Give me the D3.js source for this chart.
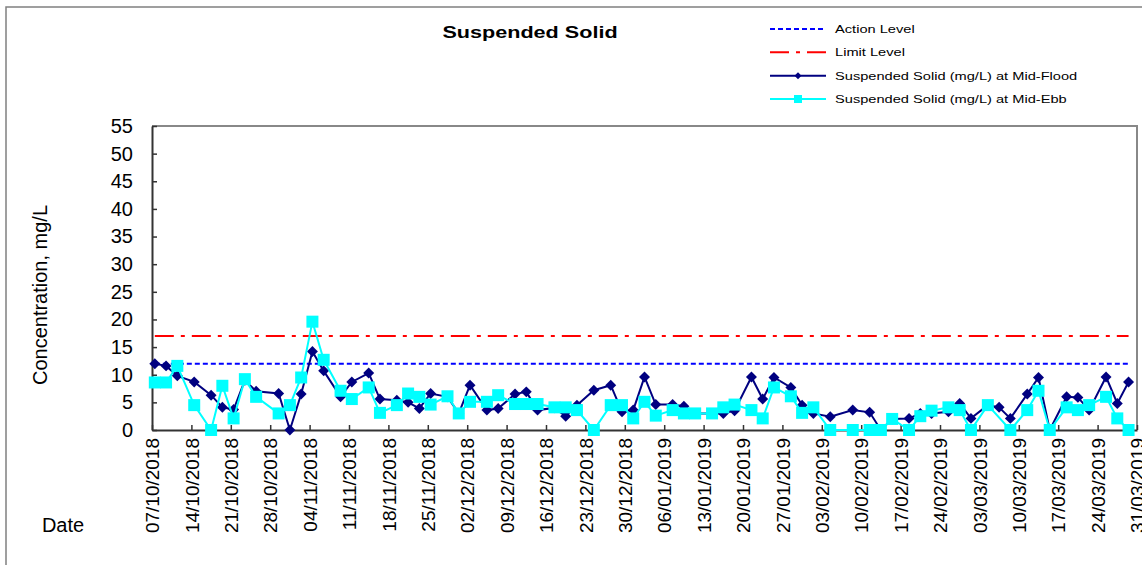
<!DOCTYPE html>
<html lang="en">
<head>
<meta charset="UTF-8">
<title>Suspended Solid</title>
<script src="https://d3js.org/d3.v7.min.js"></script>
<style>
  body { margin: 0; background: #fff; }
  svg text { font-family: Arial, 'Liberation Sans', sans-serif; fill: #000; }
  .axis .domain { stroke: #333; stroke-width: 2; }
  .axis .tick line { stroke: #333; stroke-width: 1.5; }
</style>
</head>
<body>
<svg width="1142" height="565"></svg>
<script>
// sampling dates (dd/mm/yyyy)
const dates = [
  "07/10/2018","09/10/2018","11/10/2018","14/10/2018","17/10/2018","19/10/2018","21/10/2018","23/10/2018","25/10/2018","29/10/2018","31/10/2018",
  "02/11/2018","04/11/2018","06/11/2018","09/11/2018","11/11/2018","14/11/2018","16/11/2018","19/11/2018","21/11/2018","23/11/2018","25/11/2018","28/11/2018","30/11/2018",
  "02/12/2018","05/12/2018","07/12/2018","10/12/2018","12/12/2018","14/12/2018","17/12/2018","19/12/2018","21/12/2018","24/12/2018","27/12/2018","29/12/2018","31/12/2018",
  "02/01/2019","04/01/2019","07/01/2019","09/01/2019","11/01/2019","14/01/2019","16/01/2019","18/01/2019","21/01/2019","23/01/2019","25/01/2019","28/01/2019","30/01/2019",
  "01/02/2019","04/02/2019","08/02/2019","11/02/2019","13/02/2019","15/02/2019","18/02/2019","20/02/2019","22/02/2019","25/02/2019","27/02/2019",
  "01/03/2019","04/03/2019","06/03/2019","08/03/2019","11/03/2019","13/03/2019","15/03/2019","18/03/2019","20/03/2019","22/03/2019","25/03/2019","27/03/2019","29/03/2019"
];

const midFlood = [
  12.0, 11.6, 9.8, 8.7, 6.3, 4.1, 3.7, 9.0, 7.0, 6.6, 0,
  6.5, 14.2, 10.7, 6.0, 8.7, 10.3, 5.6, 5.4, 5.0, 3.9, 6.6, 6.0, 3.0,
  8.1, 3.6, 3.9, 6.5, 6.9, 3.6, 4.0, 2.5, 4.5, 7.2, 8.1, 3.3, 3.6,
  9.6, 4.6, 4.6, 4.3, 3.0, 3.0, 3.0, 3.5, 9.6, 5.6, 9.5, 7.7, 4.5,
  3.0, 2.4, 3.6, 3.2, 0, 2.0, 2.1, 3.0, 3.0, 3.3, 4.8,
  2.1, 4.5, 4.1, 2.1, 6.5, 9.5, 0, 6.0, 5.9, 3.6, 9.6, 4.8, 8.7
];

const midEbb = [
  8.6, 8.6, 11.6, 4.5, 0, 8.0, 2.1, 9.2, 6.0, 3.0, 4.5,
  9.5, 19.6, 12.7, 7.1, 5.6, 7.7, 3.1, 4.5, 6.6, 6.0, 4.6, 6.1, 3.0,
  5.1, 5.1, 6.3, 4.7, 4.7, 4.7, 4.1, 4.1, 3.6, 0, 4.5, 4.5, 2.1,
  5.1, 2.6, 3.6, 3.0, 3.0, 3.0, 4.1, 4.6, 3.6, 2.1, 7.7, 6.1, 3.1,
  4.1, 0, 0, 0, 0, 2.0, 0, 2.5, 3.5, 4.1, 3.6,
  0, 4.5, null, 0, 3.6, 7.1, 0, 4.1, 3.6, 4.5, 6.0, 2.1, 0
];

const actionLevel = 12;
const limitLevel = 17;
const yTicks = [0, 5, 10, 15, 20, 25, 30, 35, 40, 45, 50, 55];
const xStart = "07/10/2018", xEnd = "31/03/2019";
const legendNames = ["Action Level", "Limit Level",
  "Suspended Solid (mg/L) at Mid-Flood", "Suspended Solid (mg/L) at Mid-Ebb"];

const parse = d3.timeParse("%d/%m/%Y");
const fmt = d3.timeFormat("%d/%m/%Y");
// points sit in the middle of their day, like a date axis in a spreadsheet
const mid = s => d3.timeHour.offset(parse(s), 12);

const svg = d3.select("svg");
const plot = {left: 152, right: 1137, top: 126, bottom: 430};

const x = d3.scaleTime()
  .domain([parse(xStart), parse(xEnd)])
  .range([plot.left, plot.right]);
const y = d3.scaleLinear()
  .domain([0, 55])
  .range([plot.bottom, plot.top]);

// outer chart border
svg.append("rect")
  .attr("x", 6).attr("y", 7)
  .attr("width", 1160).attr("height", 600)
  .attr("fill", "none").attr("stroke", "#808080").attr("stroke-width", 1.5);

// plot frame (top + right)
svg.append("path")
  .attr("d", `M${plot.left},${plot.top}H${plot.right}V${plot.bottom}`)
  .attr("fill", "none").attr("stroke", "#888").attr("stroke-width", 2);

// axes
const weekTicks = d3.timeDay.range(parse(xStart), d3.timeDay.offset(parse(xEnd), 1), 7);

const gx = svg.append("g")
  .attr("class", "axis")
  .attr("transform", `translate(0,${plot.bottom})`)
  .call(d3.axisBottom(x).tickValues(weekTicks).tickFormat(fmt)
    .tickSizeInner(-5).tickSizeOuter(0));
gx.selectAll(".tick text")
  .attr("transform", "rotate(-90)")
  .attr("x", -8).attr("y", 0).attr("dy", "0.35em")
  .attr("text-anchor", "end")
  .style("font-size", "19px");

const gy = svg.append("g")
  .attr("class", "axis")
  .attr("transform", `translate(${plot.left},0)`)
  .call(d3.axisLeft(y).tickValues(yTicks)
    .tickSizeInner(-5).tickSizeOuter(0).tickPadding(19));
gy.selectAll(".tick text").style("font-size", "20px");

// axis titles
svg.append("text")
  .attr("transform", "translate(47,295) rotate(-90)")
  .attr("text-anchor", "middle")
  .style("font-size", "20px")
  .text("Concentration, mg/L");

svg.append("text")
  .attr("x", 63).attr("y", 532)
  .attr("text-anchor", "middle")
  .style("font-size", "20px")
  .text("Date");

// chart title
svg.append("text")
  .attr("transform", "translate(530,38) scale(1.35,1)")
  .attr("text-anchor", "middle")
  .style("font-size", "16px").style("font-weight", "bold")
  .text("Suspended Solid");

// series
const flood = dates.map((d, i) => ({date: mid(d), v: midFlood[i]}));
const ebb = dates.map((d, i) => ({date: mid(d), v: midEbb[i]})).filter(d => d.v != null);

const line = d3.line().x(d => x(d.date)).y(d => y(d.v));
const levelLine = lvl => d3.line().x(d => x(mid(d))).y(() => y(lvl))(dates);

svg.append("path")
  .attr("d", levelLine(actionLevel))
  .attr("fill", "none").attr("stroke", "#0000ff").attr("stroke-width", 2)
  .attr("stroke-dasharray", "5,3");

svg.append("path")
  .attr("d", levelLine(limitLevel))
  .attr("fill", "none").attr("stroke", "#ff0000").attr("stroke-width", 2)
  .attr("stroke-dasharray", "19,7,4,7");

svg.append("path")
  .datum(flood)
  .attr("d", line)
  .attr("fill", "none").attr("stroke", "#000080").attr("stroke-width", 2);

const diamond = d3.symbol().type(d3.symbolDiamond2).size(60);
svg.append("g").selectAll("path")
  .data(flood)
  .join("path")
  .attr("transform", d => `translate(${x(d.date)},${y(d.v)}) rotate(45)`)
  .attr("d", d3.symbol().type(d3.symbolSquare).size(60))
  .attr("fill", "#000080");

svg.append("path")
  .datum(ebb)
  .attr("d", line)
  .attr("fill", "none").attr("stroke", "#00ffff").attr("stroke-width", 2);

svg.append("g").selectAll("rect")
  .data(ebb)
  .join("rect")
  .attr("x", d => x(d.date) - 6)
  .attr("y", d => y(d.v) - 6)
  .attr("width", 12).attr("height", 12)
  .attr("fill", "#00ffff");

// legend
const legendY = d3.scalePoint().domain(legendNames).range([29, 99]);
const lg = svg.append("g");
const lx0 = 770, lx1 = 826;
const styles = [
  {stroke: "#0000ff", dash: "5,3"},
  {stroke: "#ff0000", dash: "19,7,4,7"},
  {stroke: "#000080", dash: null},
  {stroke: "#00ffff", dash: null}
];
legendNames.forEach((name, i) => {
  const yy = legendY(name);
  lg.append("line")
    .attr("x1", lx0).attr("x2", lx1).attr("y1", yy).attr("y2", yy)
    .attr("stroke", styles[i].stroke).attr("stroke-width", 2)
    .attr("stroke-dasharray", styles[i].dash);
  if (i === 2) {
    lg.append("path")
      .attr("transform", `translate(${(lx0 + lx1) / 2},${yy}) rotate(45)`)
      .attr("d", d3.symbol().type(d3.symbolSquare).size(24))
      .attr("fill", "#000080");
  }
  if (i === 3) {
    lg.append("rect")
      .attr("x", (lx0 + lx1) / 2 - 4).attr("y", yy - 4)
      .attr("width", 8).attr("height", 8)
      .attr("fill", "#00ffff");
  }
  lg.append("text")
    .attr("transform", `translate(835,${yy + 4}) scale(1.33,1)`)
    .style("font-size", "11px")
    .text(name);
});
</script>
</body>
</html>
